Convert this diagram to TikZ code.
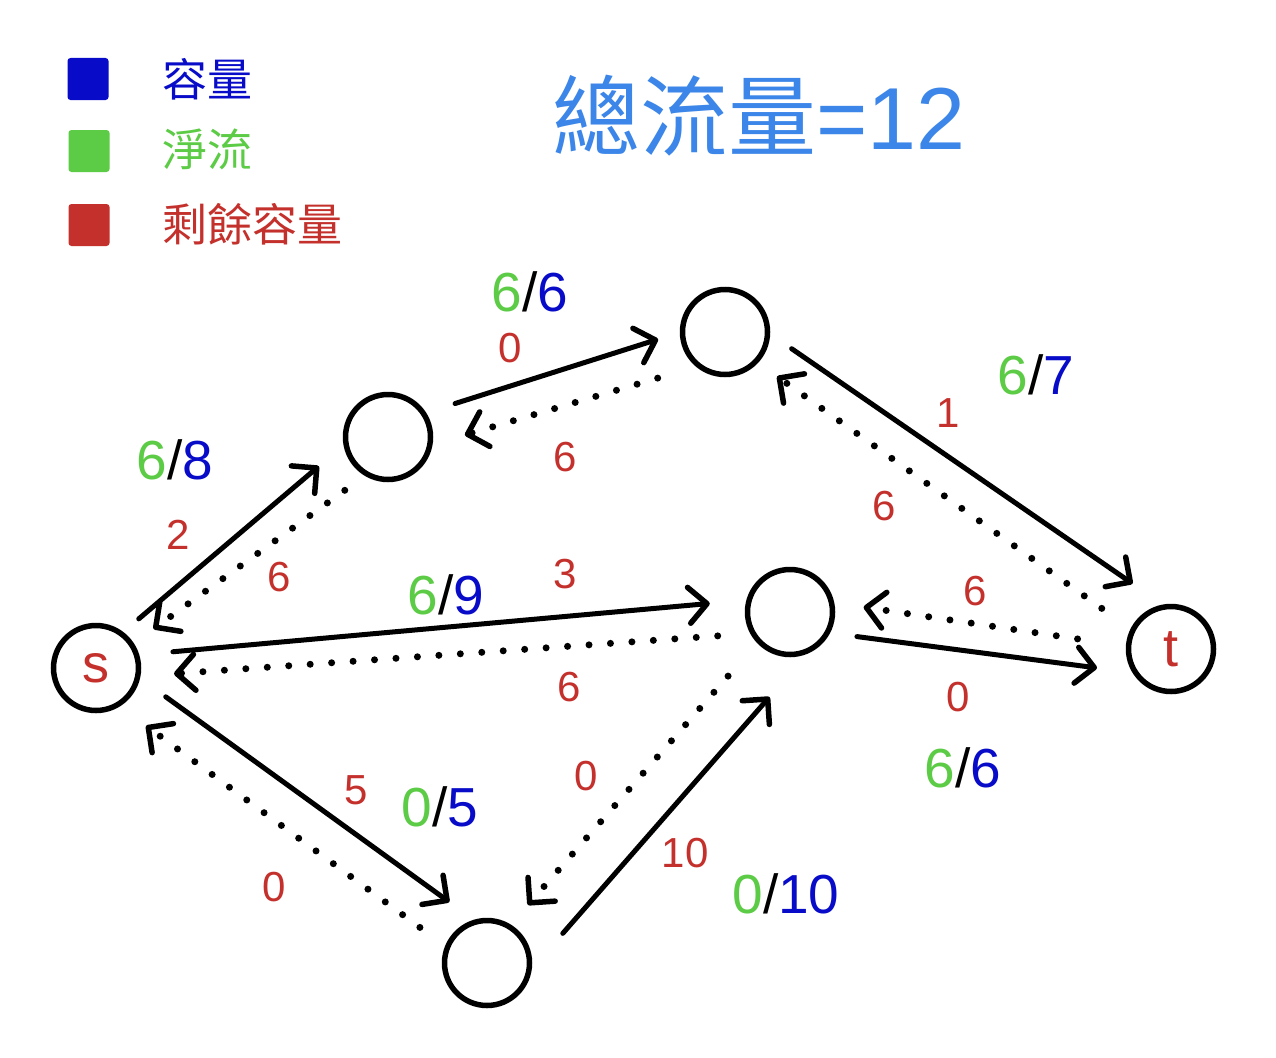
\documentclass[tikz,border=0pt]{standalone}
\usepackage{fontspec}
\setmainfont{Liberation Sans}
\newfontfamily\cjk{Noto Sans CJK TC}
\usetikzlibrary{calc,arrows.meta}
\definecolor{cblue}{RGB}{8,12,200}
\definecolor{cgreen}{RGB}{92,203,69}
\definecolor{cred}{RGB}{196,48,43}
\definecolor{ctitle}{RGB}{59,134,232}
\newcommand{\fedge}[7]{\draw[#1] ($(#2)!#4pt!(#3)!#5pt!90:(#3)$) -- ($(#2)!#6pt!(#3)!#7pt!90:(#3)$);}
\newcommand{\fl}[2]{\textcolor{cgreen}{#1}/\textcolor{cblue}{#2}}
\tikzset{
  vtx/.style={circle,draw=black,line width=5.5pt,minimum size=85pt,inner sep=0pt,text=cred,font=\fontsize{54}{60}\selectfont},
  flowtip/.style={-{Straight Barb[length=18pt,width=36pt,line width=5.5pt,round]}},
  fwd/.style={flowtip,line width=5pt,line cap=round,line join=round},
  bwd/.style={flowtip,line width=7pt,line cap=round,dash pattern=on 0pt off 21.5pt},
  lab/.style={font=\fontsize{55}{60}\selectfont,inner sep=0pt},
  res/.style={font=\fontsize{42}{48}\selectfont,text=cred,inner sep=0pt},
  legbox/.style={rounded corners=3pt,minimum width=41pt,minimum height=42pt,inner sep=0pt},
  legtxt/.style={anchor=west,inner sep=0pt,font=\cjk\fontsize{45}{54}\selectfont}
}
\begin{document}
\begin{tikzpicture}[x=1pt,y=-1pt]
\useasboundingbox[fill=white] (0,0) rectangle (1276,1057);
% legend
\node[legbox,fill=cblue] (l1) at (88,79) {};
\node[legbox,fill=cgreen] (l2) at (89,151) {};
\node[legbox,fill=cred] (l3) at (89,225) {};
\node[legtxt,text=cblue] (t1) at (162,79) {容量};
\node[legtxt,text=cgreen] (t2) at (162,149) {淨流};
\node[legtxt,text=cred] (t3) at (162,224) {剩餘容量};
% title
\node[text=ctitle,inner sep=0pt] (title) at (759,116) {{\cjk\fontsize{88}{100}\selectfont 總流量}{\fontsize{88}{100}\selectfont =12}};
% vertices
\node[vtx] (s) at (96,668) {s};
\node[vtx] (A) at (388,437) {};
\node[vtx] (B) at (725,332) {};
\node[vtx] (C) at (790,612) {};
\node[vtx] (t) at (1171,649) {t};
\node[vtx] (D) at (487,963) {};
% edges
\fedge{fwd}{s}{A}{64}{12}{300}{20}
\fedge{bwd}{A}{s}{67}{15}{303}{5}
\fedge{fwd}{A}{B}{74}{12}{287}{13}
\fedge{bwd}{B}{A}{78}{24}{279}{21}
\fedge{fwd}{B}{t}{64}{25}{478}{31}
\fedge{bwd}{t}{B}{80}{7}{479}{6}
\fedge{fwd}{s}{C}{78}{10}{617}{15}
\fedge{bwd}{C}{s}{74}{18}{619}{12}
\fedge{fwd}{C}{t}{69}{-18}{311}{-26}
\fedge{bwd}{t}{C}{94}{-1}{310}{-12}
\fedge{fwd}{s}{D}{73}{19}{423}{26}
\fedge{bwd}{D}{s}{75}{12}{415}{16}
\fedge{fwd}{D}{C}{72}{-38}{386}{-40}
\fedge{bwd}{C}{D}{89}{-5}{393}{-7}
% flow labels
\node[lab] (f1) at (175,460) {\fl{6}{8}};
\node[lab] (f2) at (530,292) {\fl{6}{6}};
\node[lab] (f3) at (1036,375) {\fl{6}{7}};
\node[lab] (f4) at (446,595) {\fl{6}{9}};
\node[lab] (f5) at (963,768) {\fl{6}{6}};
\node[lab] (f6) at (440,807) {\fl{0}{5}};
\node[lab] (f7) at (786,894) {\fl{0}{10}};
% residual labels
\node[res] (r1) at (178,535) {2};
\node[res] (r2) at (279,577) {6};
\node[res] (r3) at (510,348) {0};
\node[res] (r4) at (565,457) {6};
\node[res] (r5) at (948,413) {1};
\node[res] (r6) at (884,506) {6};
\node[res] (r7) at (565,574) {3};
\node[res] (r8) at (569,687) {6};
\node[res] (r9) at (975,591) {6};
\node[res] (r10) at (958,697) {0};
\node[res] (r11) at (356,790) {5};
\node[res] (r12) at (274,887) {0};
\node[res] (r13) at (586,776) {0};
\node[res] (r14) at (685,853) {10};
\end{tikzpicture}
\end{document}
